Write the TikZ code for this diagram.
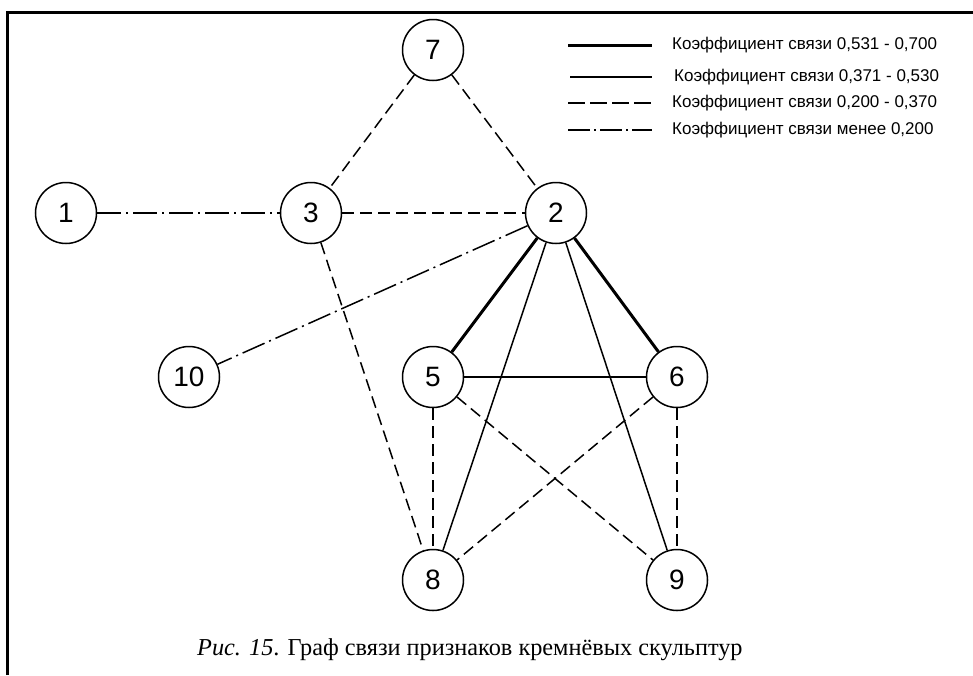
\documentclass[tikz,border=0pt]{standalone}
\usepackage{fontspec}
\setmainfont{Liberation Serif}
\newfontfamily\arialf{Liberation Sans}
\begin{document}
\begin{tikzpicture}[x=1pt,y=-1pt,
  vtx/.style={circle,draw,line width=1.5pt,minimum size=61pt,inner sep=0pt,font=\arialf\fontsize{28}{28}\selectfont},
  thick edge/.style={line width=3pt},
  thin edge/.style={line width=1.5pt},
  dash edge/.style={line width=1.5pt,dash pattern=on 12pt off 6pt},
  dd edge/.style={line width=1.5pt,dash pattern=on 24pt off 5pt on 2pt off 5pt},
  legtext/.style={anchor=west,inner sep=0pt,font=\arialf\fontsize{17}{17}\selectfont}]
\useasboundingbox (0,0) rectangle (973,675);
\draw[line width=3pt] (7,675) -- (7,12) -- (973,12);
% nodes
\node[vtx] (n7) at (433,50) {7};
\node[vtx] (n1) at (66,213) {1};
\node[vtx] (n3) at (311,213) {3};
\node[vtx] (n2) at (556,213) {2};
\node[vtx] (n10) at (189,377) {10};
\node[vtx] (n5) at (433,377) {5};
\node[vtx] (n6) at (677,377) {6};
\node[vtx] (n8) at (433,580) {8};
\node[vtx] (n9) at (677,580) {9};
% edges
\draw[dash edge] (n7) -- (n3);
\draw[dash edge] (n7) -- (n2);
\draw[dd edge] (n1) -- (n3);
\draw[dash edge] (n3) -- (n2);
\draw[dash edge] (n3) -- (n8);
\draw[dd edge] (n2) -- (n10);
\draw[thick edge] (n2) -- (n5);
\draw[thick edge] (n2) -- (n6);
\draw[thin edge] (n2) -- (n8);
\draw[thin edge] (n2) -- (n9);
\draw[thin edge] (n5) -- (n6);
\draw[dash edge] (n5) -- (n8);
\draw[dash edge] (n5) -- (n9);
\draw[dash edge] (n6) -- (n8);
\draw[dash edge] (n6) -- (n9);
% legend
\coordinate (la1) at (568,45); \coordinate (lb1) at (652,45);
\coordinate (la2) at (570,77); \coordinate (lb2) at (652,77);
\coordinate (la3) at (568,103); \coordinate (lb3) at (652,103);
\coordinate (la4) at (568,130); \coordinate (lb4) at (652,130);
\draw[thick edge] (la1) -- (lb1);
\draw[thin edge] (la2) -- (lb2);
\draw[dash edge,dash pattern=on 17pt off 5pt] (la3) -- (lb3);
\draw[dd edge,dash pattern=on 22pt off 4pt on 2pt off 4pt] (la4) -- (lb4);
\node[legtext] (t1) at (672,45) {Коэффициент связи 0,531 - 0,700};
\node[legtext] (t2) at (674,77) {Коэффициент связи 0,371 - 0,530};
\node[legtext] (t3) at (672,103) {Коэффициент связи 0,200 - 0,370};
\node[legtext] (t4) at (672,130) {Коэффициент связи менее 0,200};
% caption
\node[anchor=base west,inner sep=0pt,font=\fontsize{24.3}{24.3}\selectfont] (cap) at (197,655) {\textit{Рис. 15}. Граф связи признаков кремнёвых скульптур};
\end{tikzpicture}
\end{document}
